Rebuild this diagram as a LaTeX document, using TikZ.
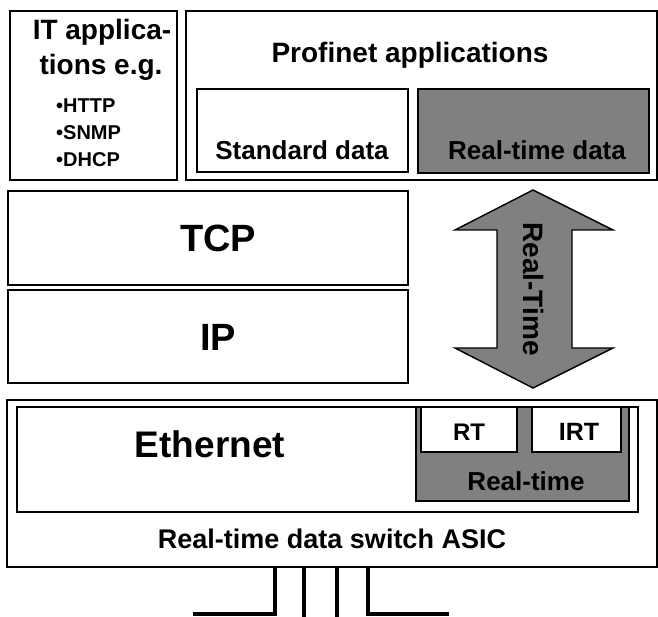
\documentclass[tikz,border=0pt]{standalone}
\usepackage{fontspec}
\setmainfont{Liberation Sans}
\begin{document}
\begin{tikzpicture}[x=1pt,y=-1pt,
  frame/.style={draw=black, line width=1.6pt},
  shade/.style={fill=black!50},
  lbl/.style={font=\bfseries, inner sep=0pt, anchor=base},
  wire/.style={draw=black, line width=3.2pt}]
\useasboundingbox (0,0) rectangle (658,617);

% top row: IT applications and Profinet applications
\draw[frame] (10,11) rectangle (177,180);
\node[lbl, font=\bfseries\fontsize{28}{28}\selectfont] (it1) at (102,40) {IT applica-};
\node[lbl, font=\bfseries\fontsize{28}{28}\selectfont] (it2) at (101,75) {tions e.g.};
\node[lbl, anchor=base west, font=\bfseries\fontsize{20}{20}\selectfont] (b1) at (56,113) {•HTTP};
\node[lbl, anchor=base west, font=\bfseries\fontsize{20}{20}\selectfont] (b2) at (56,140) {•SNMP};
\node[lbl, anchor=base west, font=\bfseries\fontsize{20}{20}\selectfont] (b3) at (56,167) {•DHCP};

\draw[frame] (186,11) rectangle (657,180);
\node[lbl, font=\bfseries\fontsize{28}{28}\selectfont] (pn) at (410,63) {Profinet applications};
\draw[frame] (197,89) rectangle (408,172);
\node[lbl, font=\bfseries\fontsize{26}{26}\selectfont] (sd) at (302,160) {Standard data};
\draw[frame, shade] (418,89) rectangle (649,173);
\node[lbl, font=\bfseries\fontsize{26}{26}\selectfont] (rd) at (537,160) {Real-time data};

% TCP and IP layers
\draw[frame] (8,191) rectangle (408,285);
\node[lbl, font=\bfseries\fontsize{38}{38}\selectfont] (tcp) at (218,252) {TCP};
\draw[frame] (8,290) rectangle (408,383);
\node[lbl, font=\bfseries\fontsize{38}{38}\selectfont] (ip) at (218,350) {IP};

% real-time double arrow
\draw[line width=1.4pt, shade] (533,190) -- (613,230) -- (572,230) -- (572,348) -- (613,348)
  -- (533,388) -- (455,348) -- (497,348) -- (497,230) -- (455,230) -- cycle;
\node[lbl, anchor=center, rotate=-90, font=\bfseries\fontsize{28}{28}\selectfont] (rtarrow) at (533,289) {Real-Time};

% Ethernet / switch ASIC
\draw[frame] (7,400) rectangle (657,567);
\draw[frame] (17,407) rectangle (638,512);
\node[lbl, font=\bfseries\fontsize{37}{37}\selectfont] (eth) at (210,457) {Ethernet};
\draw[frame, shade] (416,407) rectangle (629,501);
\draw[frame, fill=white] (421,407) rectangle (517,452);
\node[lbl, font=\bfseries\fontsize{24}{24}\selectfont] (rt) at (469,440) {RT};
\draw[frame, fill=white] (532,407) rectangle (621,452);
\node[lbl, font=\bfseries\fontsize{25}{25}\selectfont] (irt) at (579,440) {IRT};
\node[lbl, font=\bfseries\fontsize{26}{26}\selectfont] (rtm) at (526,490) {Real-time};
\node[lbl, font=\bfseries\fontsize{27}{27}\selectfont] (asic) at (332,548) {Real-time data switch ASIC};

% port wires below the switch
\draw[wire] (275,567) -- (275,614) -- (193,614);
\draw[wire] (304,567) -- (304,617);
\draw[wire] (337,567) -- (337,617);
\draw[wire] (368,567) -- (368,614) -- (449,614);
\end{tikzpicture}
\end{document}
